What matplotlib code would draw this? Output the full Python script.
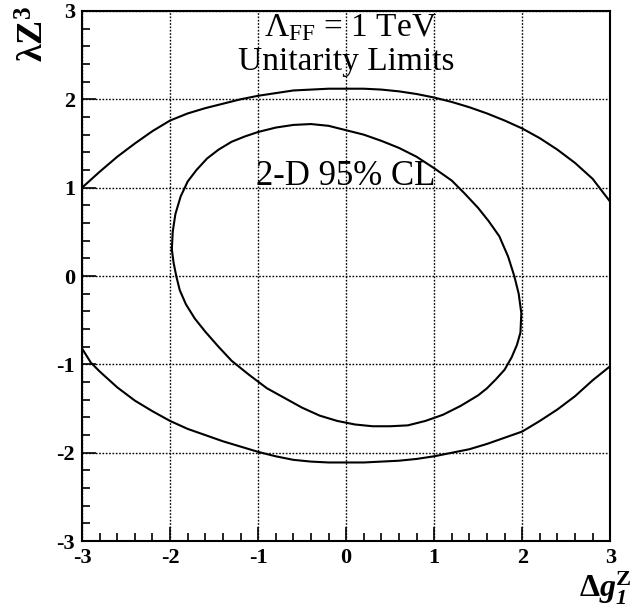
import matplotlib
matplotlib.use("Agg")
import matplotlib.pyplot as plt
from matplotlib.ticker import MultipleLocator

plt.rcParams['font.family'] = ['Liberation Serif', 'DejaVu Serif']
plt.rcParams['mathtext.fontset'] = 'custom'
plt.rcParams['mathtext.rm'] = 'Liberation Serif'
plt.rcParams['mathtext.it'] = 'Liberation Serif:italic'
plt.rcParams['mathtext.bf'] = 'Liberation Serif:bold'
plt.rcParams['mathtext.bfit'] = 'Liberation Serif:bold:italic'
plt.rcParams['axes.unicode_minus'] = False

# unitarity limit (outer curve)
outer_up_x = [-3.0, -2.8, -2.6, -2.4, -2.2, -2.0, -1.8, -1.6, -1.4, -1.2, -1.0, -0.8, -0.6, -0.4,
              -0.2, 0.0, 0.2, 0.4, 0.6, 0.8, 1.0, 1.2, 1.4, 1.6, 1.8, 2.0, 2.2, 2.4, 2.6, 2.8, 3.0]
outer_up_y = [1.0, 1.18, 1.35, 1.50, 1.64, 1.76, 1.84, 1.90, 1.95, 2.00, 2.04, 2.07, 2.10, 2.11,
              2.12, 2.12, 2.12, 2.11, 2.09, 2.06, 2.02, 1.97, 1.91, 1.84, 1.76, 1.67, 1.56, 1.43, 1.28, 1.10, 0.84]
outer_lo_x = [-3.0, -2.9, -2.8, -2.6, -2.4, -2.2, -2.0, -1.8, -1.6, -1.4, -1.2, -1.0, -0.8, -0.6, -0.4,
              -0.2, 0.0, 0.2, 0.4, 0.6, 0.8, 1.0, 1.2, 1.4, 1.6, 1.8, 2.0, 2.2, 2.4, 2.6, 2.8, 3.0]
outer_lo_y = [-0.82, -0.98, -1.08, -1.26, -1.41, -1.53, -1.64, -1.73, -1.80, -1.87, -1.93, -1.99, -2.04,
              -2.08, -2.10, -2.11, -2.11, -2.11, -2.10, -2.09, -2.07, -2.04, -2.00, -1.96, -1.90, -1.83,
              -1.76, -1.64, -1.51, -1.36, -1.18, -1.02]

# 2-D 95% CL contour (inner curve), closed
inner_x = [-1.98, -1.97, -1.94, -1.88, -1.80, -1.70, -1.58, -1.45, -1.30, -1.15, -1.0, -0.8, -0.6,
           -0.4, -0.2, 0.0, 0.2, 0.4, 0.6, 0.8, 1.0, 1.2, 1.35, 1.5, 1.62, 1.74, 1.84, 1.91, 1.96,
           1.99, 1.98, 1.94, 1.88, 1.80, 1.70, 1.60, 1.50, 1.30, 1.10, 0.90, 0.70, 0.50, 0.30, 0.10,
           -0.10, -0.30, -0.50, -0.70, -0.90, -1.10, -1.30, -1.45, -1.60, -1.72, -1.82, -1.89,
           -1.93, -1.96, -1.98]
inner_y = [0.30, 0.50, 0.70, 0.90, 1.07, 1.20, 1.33, 1.43, 1.52, 1.58, 1.63, 1.68, 1.71,
           1.72, 1.70, 1.65, 1.60, 1.53, 1.45, 1.35, 1.22, 1.08, 0.93, 0.77, 0.62, 0.45, 0.22, 0.0, -0.20,
           -0.42, -0.64, -0.78, -0.92, -1.06, -1.17, -1.27, -1.35, -1.47, -1.57, -1.64, -1.69, -1.70,
           -1.70, -1.68, -1.64, -1.58, -1.49, -1.38, -1.27, -1.12, -0.96, -0.80, -0.63, -0.48, -0.32,
           -0.16, 0.0, 0.15, 0.30]

fig = plt.figure(figsize=(6.41, 6.08), dpi=100)
ax = fig.add_axes([0.128, 0.110, 0.824, 0.872])

ax.plot(outer_up_x, outer_up_y, color='black', lw=1.5)
ax.plot(outer_lo_x, outer_lo_y, color='black', lw=1.5)
ax.plot(inner_x, inner_y, color='black', lw=1.5)

ax.set_xlim(-3, 3)
ax.set_ylim(-3, 3)
ax.xaxis.set_major_locator(MultipleLocator(1))
ax.yaxis.set_major_locator(MultipleLocator(1))
ax.xaxis.set_minor_locator(MultipleLocator(0.2))
ax.yaxis.set_minor_locator(MultipleLocator(0.2))
ax.tick_params(which='both', direction='in', top=False, right=False, width=1.2)
ax.tick_params(which='major', length=10, labelsize=16, pad=5)
ax.tick_params(which='minor', length=6)
for lab in ax.get_xticklabels() + ax.get_yticklabels():
    lab.set_fontweight('bold')
ax.grid(True, which='major', color='black', linestyle=(0, (1.2, 1.2)), lw=1.0)
for sp in ax.spines.values():
    sp.set_linewidth(1.5)

ax.text(0.05, 2.81, r'$\Lambda_{\mathrm{FF}}$ = 1 TeV', fontsize=24, ha='center', va='center')
ax.text(0.0, 2.42, 'Unitarity Limits', fontsize=24, ha='center', va='center')
ax.text(0.0, 1.13, '2-D 95% CL', fontsize=25, ha='center', va='center')

fig.text(0.985, 0.002, r'$\mathbf{\Delta}\mathbfit{g}_{\mathbfit{1}}^{\mathbf{Z}}$',
         fontsize=23, ha='right', va='bottom')
fig.text(0.055, 0.99, r'$\mathbf{\lambda Z^{3}}$', fontsize=26, rotation=90,
         ha='center', va='top')

fig.savefig('out.png', dpi=100)
